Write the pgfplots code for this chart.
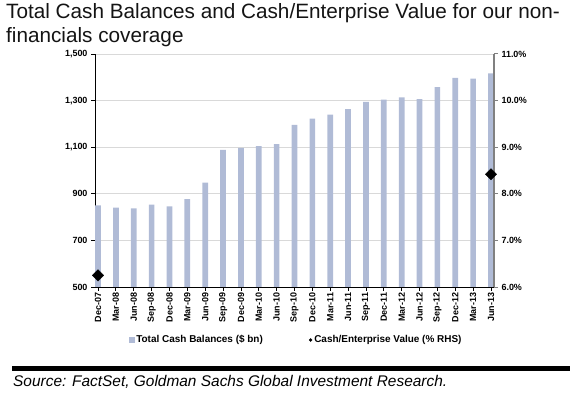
\documentclass[border=0pt]{standalone}
\usepackage{pgfplots}
\usepackage{pgfplotstable}
\pgfplotsset{compat=1.18}
\usepackage{fontspec}
\setmainfont{Liberation Sans}
\definecolor{barc}{RGB}{176,187,214}
\definecolor{gridc}{RGB}{217,217,217}
\definecolor{raxis}{RGB}{128,128,128}
\definecolor{titlec}{RGB}{20,20,20}

\pgfplotstableread{
x val
0 850
1 841
2 837
3 853
4 846
5 877
6 948
7 1088
8 1097
9 1105
10 1113
11 1196
12 1223
13 1240
14 1263
15 1294
16 1304
17 1314
18 1306
19 1358
20 1398
21 1394
22 1417
}\cash

\pgfplotstableread{
x val
0 6.25
22 8.42
}\ev

\begin{document}
\begin{tikzpicture}
\path[use as bounding box] (0bp,0bp) rectangle (570bp,397bp);
\node[anchor=base west, inner sep=0pt, text=titlec, font=\fontsize{20.8}{24}\selectfont] at (6bp,378bp) {Total Cash Balances and Cash/Enterprise Value for our non-};
\node[anchor=base west, inner sep=0pt, text=titlec, font=\fontsize{20.8}{24}\selectfont] at (6bp,354bp) {financials coverage};
\draw[black, line width=4.5bp] (12bp,28.7bp) -- (570bp,28.7bp);
\node[anchor=base west, inner sep=0pt, font=\itshape\fontsize{15.5}{17}\selectfont] at (13bp,10.5bp) {Source: FactSet, Goldman Sachs Global Investment Research.};

\begin{axis}[
  at={(95bp,110bp)}, anchor=south west,
  scale only axis, width=399bp, height=233bp,
  xmin=-0.17, xmax=22.17, ymin=500, ymax=1500,
  axis y line*=left, axis x line*=bottom,
  axis line style={black, line width=0.8bp},
  tick align=outside, major tick length=4bp,
  tick style={black, line width=0.8bp},
  xtick={0,...,22},
  xticklabels={Dec-07,Mar-08,Jun-08,Sep-08,Dec-08,Mar-09,Jun-09,Sep-09,Dec-09,Mar-10,Jun-10,Sep-10,Dec-10,Mar-11,Jun-11,Sep-11,Dec-11,Mar-12,Jun-12,Sep-12,Dec-12,Mar-13,Jun-13},
  x tick label style={rotate=90, anchor=east, font=\bfseries\fontsize{9}{9}\selectfont, inner sep=1.5bp},
  ytick={500,700,900,1100,1300,1500},
  yticklabels={500,700,900,{1,100},{1,300},{1,500}},
  y tick label style={font=\bfseries\fontsize{9}{9}\selectfont},
  ymajorgrids, grid style={gridc, line width=0.8bp},
  clip=false,
]
\addplot[ybar, bar width=0.32, fill=barc, draw=none] table[x=x,y=val]{\cash};
\end{axis}

\begin{axis}[
  at={(95bp,110bp)}, anchor=south west,
  scale only axis, width=399bp, height=233bp,
  xmin=-0.17, xmax=22.17, ymin=6, ymax=11,
  axis y line*=right, axis x line=none,
  y axis line style={raxis, line width=1.5bp},
  tick align=outside, major tick length=4bp,
  ytick style={raxis, line width=1bp},
  ytick={6,7,8,9,10,11},
  yticklabels={6.0\%,7.0\%,8.0\%,9.0\%,10.0\%,11.0\%},
  y tick label style={font=\bfseries\fontsize{9}{9}\selectfont},
  clip=false,
  legend columns=2,
  legend style={draw=none, fill=none, inner sep=0pt, outer sep=0pt,
    at={(0.085,-0.2275)}, anchor=west,
    font=\bfseries\fontsize{10}{11}\selectfont,
    /tikz/every even column/.append style={column sep=44bp}},
]
\addlegendimage{legend image code/.code={\fill[barc] (0bp,-2.5bp) rectangle (5bp,2.5bp);}}
\addlegendentry{Total Cash Balances (\$ bn)}
\addlegendimage{legend image code/.code={\fill[black] (1.5bp,-1.5bp) -- (3bp,0bp) -- (1.5bp,1.5bp) -- (0bp,0bp) -- cycle;}}
\addlegendentry{Cash/Enterprise Value (\% RHS)}
\addplot[only marks, mark=square*, mark size=4bp, mark options={rotate=45, fill=black, draw=black}, forget plot] table[x=x,y=val]{\ev};
\end{axis}
\end{tikzpicture}
\end{document}
